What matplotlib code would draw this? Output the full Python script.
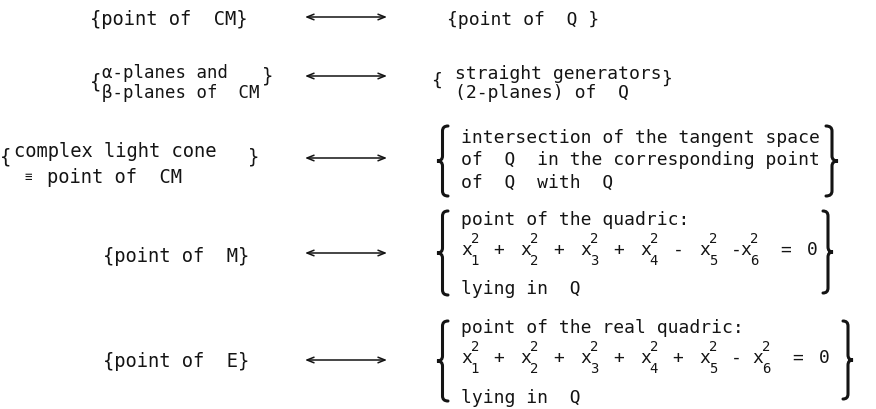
import matplotlib
matplotlib.use("Agg")
import matplotlib.pyplot as plt
from matplotlib.path import Path
from matplotlib.patches import PathPatch

# text content of the correspondence table
left_single = ["{point of  CM}", "{point of  M}", "{point of  E}"]
left_row2 = ["α-planes and", "β-planes of  CM"]
left_row3 = ["complex light cone", "point of  CM"]
equiv_sign = "≡"
right_row1 = "{point of  Q }"
right_row2 = ["straight generators", "(2-planes) of  Q"]
right_row3 = ["intersection of the tangent space",
              "of  Q  in the corresponding point",
              "of  Q  with  Q"]
right_row4 = ["point of the quadric:", "lying in  Q"]
right_row5 = ["point of the real quadric:", "lying in  Q"]
eq_subscripts = ["1", "2", "3", "4", "5", "6"]
eq_power = "2"
eq_ops_row4 = ["+", "+", "+", "-", "-"]
eq_ops_row5 = ["+", "+", "+", "+", "-"]
eq_rhs = ["=", "0"]

# layout (pixel space of the 876x410 image)
FONT = "DejaVu Sans Mono"
FS = 13        # right-hand column
FS_L = 13.5    # left-hand column
PITCH = 0.602 * FS * 100 / 72
INK = "#141414"
arrow_y = [18, 77, 159, 254, 361]
ARROW_X = (305, 387)
XR = 461  # left edge of the right-hand text blocks


def txt(ax, x, y, s, size=FS, ha="left"):
    # y is the middle of the x-height
    ax.text(x, y + 0.28 * size * 100 / 72, s, fontsize=size, family=FONT,
            color=INK, ha=ha, va="baseline")


def brace(ax, x_arm, x_tip, y0, y1, lw=2.2):
    xm = (x_arm + x_tip) / 2
    ym = (y0 + y1) / 2
    r = 5
    verts = [(x_arm, y0), (xm, y0), (xm, y0 + r), (xm, ym - r),
             (xm, ym), (x_tip, ym), (xm, ym), (xm, ym + r),
             (xm, y1 - r), (xm, y1), (x_arm, y1)]
    codes = [Path.MOVETO, Path.CURVE3, Path.CURVE3, Path.LINETO,
             Path.CURVE3, Path.CURVE3, Path.CURVE3, Path.CURVE3,
             Path.LINETO, Path.CURVE3, Path.CURVE3]
    ax.add_patch(PathPatch(Path(verts, codes), fill=False, lw=lw,
                           edgecolor=INK, capstyle="round"))


def equation(ax, x0, yc, ops, x6_col, rhs_cols):
    step = 5.49
    term_cols = [0, step, 2 * step, 3 * step, 4 * step, x6_col]
    op_cols = [3, 3 + step, 3 + 2 * step, 3 + 3 * step, 24.8]
    for col, sub in zip(term_cols, eq_subscripts):
        xx = x0 + col * PITCH
        txt(ax, xx, yc, "x")
        txt(ax, xx + 0.9 * PITCH, yc - 11, eq_power, size=10)
        txt(ax, xx + 0.9 * PITCH, yc + 11, sub, size=10)
    for col, op in zip(op_cols, ops):
        txt(ax, x0 + col * PITCH, yc, op)
    for col, s in zip(rhs_cols, eq_rhs):
        txt(ax, x0 + col * PITCH, yc, s)


fig = plt.figure(figsize=(8.76, 4.10), dpi=100)
ax = fig.add_axes([0, 0, 1, 1])
ax.set_xlim(0, 876)
ax.set_ylim(410, 0)
ax.axis("off")

for y in arrow_y:
    ax.annotate("", xy=(ARROW_X[1], y), xytext=(ARROW_X[0], y),
                arrowprops=dict(arrowstyle="<->,head_length=0.5,head_width=0.2",
                                lw=1.1, color=INK, shrinkA=0, shrinkB=0))

# left column
txt(ax, 90, 20, left_single[0], size=FS_L)
txt(ax, 90, 82, "{", size=FS_L)
txt(ax, 102, 73, left_row2[0], size=12.5)
txt(ax, 102, 93, left_row2[1], size=12.5)
txt(ax, 262, 76, "}", size=FS_L)
txt(ax, 0, 157, "{", size=FS_L)
txt(ax, 14, 152, left_row3[0], size=FS_L)
txt(ax, 24, 178, equiv_sign, size=9)
txt(ax, 47, 178, left_row3[1], size=FS_L)
txt(ax, 248, 157, "}", size=FS_L)
txt(ax, 103, 257, left_single[1], size=FS_L)
txt(ax, 103, 362, left_single[2], size=FS_L)

# right column
txt(ax, 447, 20, right_row1)
txt(ax, 431, 81, "{")
txt(ax, 455, 74, right_row2[0])
txt(ax, 455, 93, right_row2[1])
txt(ax, 661, 79, "}")

brace(ax, 448, 437, 127, 197)
for y, s in zip([138, 160, 183], right_row3):
    txt(ax, XR, y, s)
brace(ax, 826, 838, 127, 197)

brace(ax, 448, 437, 212, 296)
txt(ax, XR, 220, right_row4[0])
equation(ax, XR, 250, eq_ops_row4, 25.7, [29.4, 31.8])
txt(ax, XR, 289, right_row4[1])
brace(ax, 823, 833, 212, 294)

brace(ax, 448, 437, 322, 402)
txt(ax, XR, 328, right_row5[0])
equation(ax, XR, 358, eq_ops_row5, 26.8, [30.5, 32.9])
txt(ax, XR, 398, right_row5[1])
brace(ax, 843, 853, 322, 400)

fig.savefig("out.png", dpi=100, facecolor="white")
